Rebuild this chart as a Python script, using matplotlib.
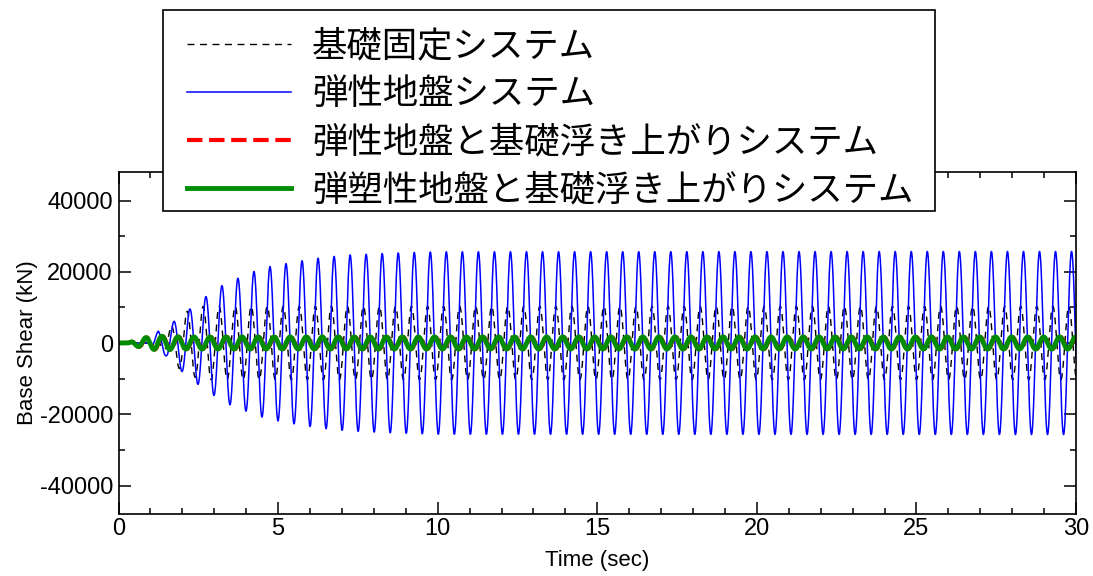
import numpy as np
import matplotlib
matplotlib.use("Agg")
import matplotlib.pyplot as plt
from matplotlib.ticker import MultipleLocator
from matplotlib.patches import Rectangle

plt.rcParams['font.family'] = ['Liberation Sans', 'Noto Sans CJK JP', 'DejaVu Sans']
plt.rcParams['axes.unicode_minus'] = False

# ---- data ----
labels = ["基礎固定システム", "弾性地盤システム",
          "弾性地盤と基礎浮き上がりシステム", "弾塑性地盤と基礎浮き上がりシステム"]

period = 0.5023          # s, spacing of successive peaks
t_end = 30.0

# peak times of reference peaks (s)
blue_peak_t0 = 1.23
black_peak_t0 = 1.145
green_peak_t0 = 1.36
red_peak_t0 = 1.38

# envelopes (time s, amplitude kN) read from successive peaks
blue_env_t = [0.0, 0.95, 1.25, 1.49, 1.75, 2.0, 2.26, 2.5, 2.75, 3.0, 3.26, 3.5, 3.75, 4.25, 4.76,
              5.26, 5.76, 6.26, 6.75, 7.25, 8.5, 10.0, 30.0]
blue_env_a = [0, 0, 3400, 3600, 6200, 8100, 9700, 11700, 13100, 14800, 16200, 17400, 18200, 20100, 21500,
              22300, 23100, 23800, 24300, 24700, 25200, 25600, 25700]

black_env_t = [0.0, 1.15, 1.4, 1.65, 1.98, 2.17, 2.46, 2.67, 3.2, 30.0]
black_env_a = [0, 0, 1500, 4800, 7900, 9000, 9800, 10300, 10300, 10300]

green_env_t = [0.0, 0.3, 0.52, 0.72, 0.98, 1.22, 1.48, 2.0, 30.0]
green_env_a = [0, 0, 750, 1300, 1700, 1900, 1900, 1700, 1700]

red_env_t = green_env_t
red_env_a = green_env_a

# ---- build curves ----
t = np.linspace(0, t_end, 9001)

def wave(env_t, env_a, t0):
    return np.interp(t, env_t, env_a) * np.cos(2 * np.pi * (t - t0) / period)

y_black = wave(black_env_t, black_env_a, black_peak_t0)
y_blue = wave(blue_env_t, blue_env_a, blue_peak_t0)
y_red = wave(red_env_t, red_env_a, red_peak_t0)
y_green = wave(green_env_t, green_env_a, green_peak_t0)

W, H = 1093, 576
fig = plt.figure(figsize=(W / 100, H / 100), dpi=100)
ax = fig.add_axes([118.5 / W, 62 / H, 957.5 / W, 342 / H])

l1, = ax.plot(t, y_black, color='black', lw=1.0, dashes=(5, 4))
l2, = ax.plot(t, y_blue, color='#0000ff', lw=1.1)
l3, = ax.plot(t, y_red, color='#ff0000', lw=3.0, ls='--')
l4, = ax.plot(t, y_green, color='#008c00', lw=3.5)

ax.set_xlim(0, 30)
ax.set_ylim(-48000, 48000)
ax.set_xticks([0, 5, 10, 15, 20, 25, 30])
ax.set_yticks([-40000, -20000, 0, 20000, 40000])
ax.xaxis.set_minor_locator(MultipleLocator(1))
ax.yaxis.set_minor_locator(MultipleLocator(10000))
ax.tick_params(which='both', direction='in', top=True, right=True, width=1.1)
ax.tick_params(which='major', length=8.5)
ax.tick_params(which='minor', length=4.5)
ax.tick_params(axis='y', labelsize=17, pad=4)
ax.tick_params(axis='x', labelsize=17, pad=3)
for s in ax.spines.values():
    s.set_linewidth(1.2)

ax.set_xlabel("Time (sec)", fontsize=16, labelpad=7)
ax.set_ylabel("Base Shear (kN)", fontsize=16, labelpad=1)

# legend frame (drawn over the axes)
box = Rectangle((163 / W, 1 - 211 / H), (935 - 163) / W, (211 - 10) / H,
                transform=fig.transFigure, facecolor='white', edgecolor='black',
                lw=1.2, zorder=3)
fig.patches.append(box)

leg = fig.legend([l1, l2, l3, l4], labels, loc='upper left',
                 bbox_to_anchor=(187 / W, 1 - 28 / H), borderaxespad=0,
                 prop={'family': ['Noto Sans CJK JP'], 'size': 25.5},
                 handlelength=2.94, handletextpad=0.59, labelspacing=0.34,
                 borderpad=0, frameon=False)
leg.set_zorder(4)

fig.savefig("out.png", dpi=100)
